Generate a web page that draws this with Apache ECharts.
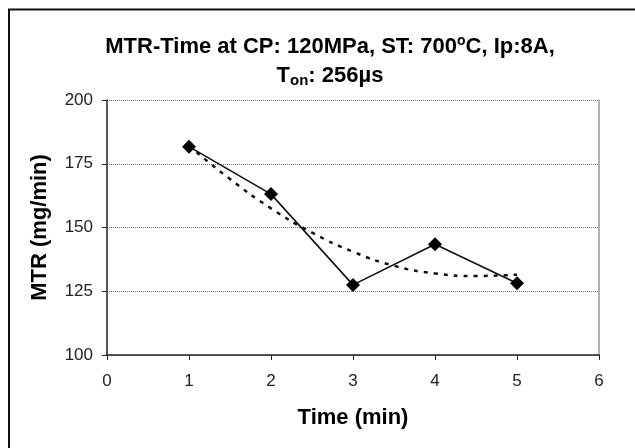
<!DOCTYPE html>
<html>
<head>
<meta charset="utf-8">
<script src="https://cdn.jsdelivr.net/npm/echarts@6/dist/echarts.min.js"></script>
<style>html,body{margin:0;padding:0;background:#fff;}#c{width:635px;height:448px;}</style>
</head>
<body>
<div id="c"></div>
<script>
var timeMin = [1, 2, 3, 4, 5];
var mtr = [181.7, 163.1, 127.5, 143.4, 128.1];
var trendX = [1, 1.5, 2, 2.5, 3, 3.5, 4, 4.5, 5];
var trendY = [182, 169, 157.5, 148, 140.5, 135, 132, 131, 131.5];
var yTicks = [100, 125, 150, 175, 200];
var xTicks = [0, 1, 2, 3, 4, 5, 6];

var chart = echarts.init(document.getElementById('c'), null, {renderer: 'canvas'});
var font = 'Liberation Sans, Arial, sans-serif';
chart.setOption({
  animation: false,
  backgroundColor: '#fff',
  title: {
    text: '{b|MTR-Time at CP: 120MPa, ST: 700}{sup|o}{b|C, Ip:8A,}\n{b|T}{sub|on}{b|: 256µs}',
    left: 325, top: 27, textAlign: 'center',
    textStyle: {
      rich: {
        b: {fontFamily: font, fontWeight: 'bold', fontSize: 22, color: '#000', lineHeight: 29},
        sup: {fontFamily: font, fontWeight: 'bold', fontSize: 14, color: '#000', lineHeight: 29, padding: [0,0,11,0]},
        sub: {fontFamily: font, fontWeight: 'bold', fontSize: 15, color: '#000', lineHeight: 29, padding: [11,0,0,0]}
      }
    }
  },
  graphic: [
    {type: 'line', shape: {x1: 9, y1: 10, x2: 9, y2: 448}, style: {stroke: '#111', lineWidth: 2}},
    {type: 'line', shape: {x1: 8, y1: 9.5, x2: 635, y2: 9.5}, style: {stroke: '#111', lineWidth: 2}}
  ],
  grid: {left: 107, right: 36, top: 100, bottom: 93},
  xAxis: {
    type: 'value', min: 0, max: 6, interval: 1,
    name: 'Time (min)', nameLocation: 'middle', nameGap: 52,
    nameTextStyle: {fontFamily: font, fontWeight: 'bold', fontSize: 22, color: '#000'},
    axisLine: {lineStyle: {color: '#222', width: 1.5}},
    axisTick: {length: 5, lineStyle: {color: '#222'}},
    axisLabel: {fontFamily: font, fontSize: 17, color: '#222', margin: 18, formatter: function(v){return xTicks.indexOf(v) >= 0 ? String(v) : '';}},
    splitLine: {show: false}
  },
  yAxis: [{
    type: 'value', min: 100, max: 200, interval: 25,
    name: 'MTR (mg/min)', nameLocation: 'middle', nameGap: 56,
    nameTextStyle: {fontFamily: font, fontWeight: 'bold', fontSize: 22, color: '#000'},
    axisLine: {show: true, lineStyle: {color: '#222', width: 1.5}},
    axisTick: {show: true, inside: false, length: 5, lineStyle: {color: '#222'}},
    axisLabel: {fontFamily: font, fontSize: 17, color: '#222', margin: 14, formatter: function(v){return yTicks.indexOf(v) >= 0 ? String(v) : '';}},
    splitLine: {show: true, lineStyle: {color: '#777', type: [1, 1], width: 1}}
  }, {
    type: 'value', min: 100, max: 200, interval: 25, position: 'right',
    axisLine: {show: true, lineStyle: {color: '#999', width: 1.5}},
    axisTick: {show: false}, axisLabel: {show: false}, splitLine: {show: false}
  }],
  series: [{
    type: 'line',
    data: trendX.map(function(x, i){return [x, trendY[i]];}),
    smooth: true, showSymbol: false, symbol: 'none',
    lineStyle: {color: '#111', width: 2.5, type: [4, 6]},
    z: 2
  }, {
    type: 'line',
    data: timeMin.map(function(x, i){return [x, mtr[i]];}),
    symbol: 'diamond', symbolSize: 14,
    itemStyle: {color: '#000'},
    lineStyle: {color: '#111', width: 1.6},
    z: 3
  }]
});
</script>
</body>
</html>
